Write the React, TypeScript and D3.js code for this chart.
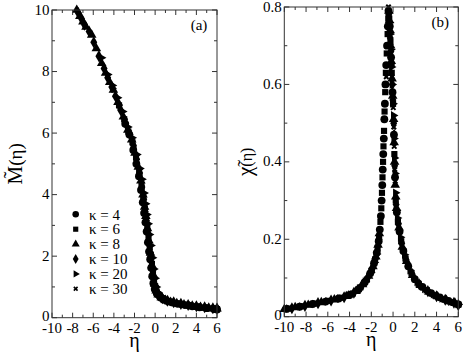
import { useEffect, useRef } from 'react'
import * as d3 from 'd3'

// coupling values and axis ticks
const kappas = [4, 6, 8, 10, 20, 30]
const etaTicks = [-10, -8, -6, -4, -2, 0, 2, 4, 6]
const mTicks = [0, 2, 4, 6, 8, 10]
const chiTicks = [0, 0.2, 0.4, 0.6, 0.8]

// panel (a): scaled magnetisation, [eta, M]
const m4 = [[-2.9, 6.3], [-2.5, 5.95], [-2.12, 5.45], [-1.82, 5.0], [-1.57, 4.6], [-1.37, 4.15], [-1.2, 3.75], [-1.07, 3.4], [-0.94, 3.1], [-0.82, 2.8], [-0.7, 2.45], [-0.59, 2.15], [-0.48, 1.9], [-0.38, 1.62], [-0.28, 1.35], [-0.17, 1.12], [-0.04, 0.93], [0.16, 0.79], [0.45, 0.69], [0.75, 0.61], [1.1, 0.55], [1.6, 0.5], [2.2, 0.45], [2.9, 0.41], [3.6, 0.37], [4.3, 0.34], [5.0, 0.31], [5.7, 0.28], [6.0, 0.27]]
const m6 = [[-3.5, 6.9], [-3.0, 6.45], [-2.6, 6.05], [-2.2, 5.7], [-1.85, 5.2], [-1.55, 4.75], [-1.32, 4.3], [-1.15, 3.9], [-1.0, 3.55], [-0.88, 3.25], [-0.76, 2.95], [-0.64, 2.6], [-0.52, 2.3], [-0.42, 2.05], [-0.31, 1.75], [-0.21, 1.5], [-0.11, 1.25], [0.0, 1.02], [0.14, 0.85], [0.32, 0.74], [0.6, 0.64], [0.95, 0.57], [1.4, 0.51], [1.9, 0.47], [2.6, 0.43], [3.3, 0.39], [4.0, 0.35], [4.7, 0.32], [5.4, 0.3], [6.0, 0.28]]
const m8 = [[-7.6, 10.0], [-7.3, 9.8], [-7.0, 9.62], [-6.7, 9.45], [-6.15, 9.19], [-5.7, 8.75], [-5.18, 8.27], [-4.8, 7.95], [-4.4, 7.65], [-4.05, 7.4], [-3.6, 7.0], [-3.08, 6.53], [-2.65, 6.1], [-2.27, 5.78], [-1.95, 5.35], [-1.63, 4.9], [-1.38, 4.45], [-1.18, 4.0], [-1.02, 3.6], [-0.9, 3.3], [-0.74, 2.9], [-0.6, 2.5], [-0.45, 2.1], [-0.3, 1.7], [-0.18, 1.4], [-0.05, 1.1], [0.1, 0.88], [0.3, 0.75], [0.6, 0.65], [1.0, 0.57], [1.5, 0.51], [2.1, 0.47], [2.8, 0.43], [3.6, 0.39], [4.4, 0.35], [5.2, 0.32], [6.0, 0.29]]
const m10 = [[-7.45, 9.9], [-7.15, 9.72], [-6.85, 9.52], [-6.4, 9.3], [-5.95, 8.95], [-5.45, 8.5], [-4.95, 8.1], [-4.6, 7.8], [-4.2, 7.5], [-3.85, 7.2], [-3.35, 6.75], [-2.85, 6.3], [-2.45, 5.95], [-2.1, 5.6], [-1.8, 5.15], [-1.5, 4.7], [-1.28, 4.25], [-1.1, 3.85], [-0.96, 3.45], [-0.84, 3.15], [-0.7, 2.75], [-0.55, 2.35], [-0.4, 1.98], [-0.27, 1.62], [-0.14, 1.3], [-0.02, 1.05], [0.15, 0.86], [0.38, 0.73], [0.7, 0.63], [1.2, 0.55], [1.8, 0.5], [2.5, 0.45], [3.2, 0.41], [4.0, 0.37], [4.8, 0.34], [5.6, 0.31], [6.0, 0.3]]
const m20 = [[-5.2, 8.45], [-4.6, 7.9], [-4.15, 7.55], [-3.65, 7.15], [-3.15, 6.7], [-2.65, 6.2], [-2.23, 5.85], [-1.78, 5.3], [-1.48, 4.85], [-1.28, 4.5], [-1.08, 4.05], [-0.93, 3.7], [-0.8, 3.35], [-0.68, 3.05], [-0.55, 2.7], [-0.41, 2.35], [-0.26, 1.95], [-0.13, 1.58], [0.0, 1.28], [0.12, 1.0], [0.28, 0.82], [0.5, 0.71], [0.8, 0.61], [1.3, 0.54], [2.0, 0.48], [2.7, 0.44], [3.5, 0.4], [4.2, 0.36], [5.0, 0.33], [5.8, 0.3]]
const m30 = [[-4.0, 7.4], [-3.4, 6.85], [-2.9, 6.38], [-2.5, 6.02], [-2.05, 5.5], [-1.75, 5.1], [-1.5, 4.65], [-1.3, 4.25], [-1.12, 3.85], [-0.97, 3.5], [-0.85, 3.2], [-0.72, 2.85], [-0.58, 2.45], [-0.44, 2.08], [-0.32, 1.75], [-0.2, 1.45], [-0.08, 1.18], [0.05, 0.95], [0.25, 0.8], [0.55, 0.68], [0.9, 0.6], [1.35, 0.54], [1.9, 0.49], [2.6, 0.45], [3.3, 0.41], [4.1, 0.37], [4.9, 0.34], [5.6, 0.31], [6.0, 0.3]]

// panel (b): scaled susceptibility, [eta, chi]
const chi4 = [[-9.8, 0.02], [-8.6, 0.026], [-7.4, 0.033], [-6.2, 0.039], [-5.0, 0.047], [-4.0, 0.056], [-3.2, 0.07], [-2.6, 0.089], [-2.1, 0.112], [-1.75, 0.138], [-1.5, 0.165], [-1.32, 0.195], [-1.22, 0.225], [-1.12, 0.26], [-1.05, 0.3], [-0.99, 0.34], [-0.95, 0.38], [-0.9, 0.42], [-0.85, 0.46], [-0.8, 0.51], [-0.75, 0.55], [-0.7, 0.6], [-0.63, 0.65], [-0.55, 0.7], [-0.48, 0.75], [-0.42, 0.79], [-0.3, 0.75], [-0.18, 0.67], [-0.05, 0.58], [0.08, 0.47], [0.18, 0.36], [0.35, 0.27], [0.6, 0.22], [0.95, 0.17], [1.4, 0.13], [2.0, 0.097], [2.7, 0.077], [3.5, 0.061], [4.3, 0.05], [5.1, 0.041], [6.0, 0.032]]
const chi6 = [[-9.5, 0.021], [-8.3, 0.027], [-7.1, 0.034], [-5.9, 0.041], [-4.7, 0.049], [-3.7, 0.06], [-3.0, 0.076], [-2.4, 0.096], [-1.95, 0.12], [-1.65, 0.148], [-1.42, 0.178], [-1.28, 0.205], [-1.16, 0.245], [-1.08, 0.28], [-1.02, 0.32], [-0.97, 0.36], [-0.92, 0.4], [-0.88, 0.44], [-0.83, 0.48], [-0.78, 0.53], [-0.72, 0.58], [-0.66, 0.63], [-0.58, 0.68], [-0.5, 0.73], [-0.44, 0.77], [-0.35, 0.77], [-0.24, 0.71], [-0.12, 0.63], [0.0, 0.55], [0.12, 0.42], [0.25, 0.3], [0.45, 0.245], [0.75, 0.195], [1.15, 0.15], [1.7, 0.112], [2.35, 0.085], [3.1, 0.068], [3.9, 0.054], [4.7, 0.045], [5.5, 0.037], [6.0, 0.031]]
const chi8 = [[-10, 0.019], [-9.0, 0.024], [-7.8, 0.03], [-6.6, 0.037], [-5.4, 0.044], [-4.3, 0.053], [-3.4, 0.066], [-2.8, 0.083], [-2.25, 0.105], [-1.85, 0.13], [-1.58, 0.155], [-1.38, 0.185], [-1.26, 0.215], [-0.38, 0.79], [-0.33, 0.765], [-0.28, 0.74], [-0.22, 0.7], [-0.16, 0.66], [-0.09, 0.615], [-0.03, 0.57], [0.05, 0.51], [0.1, 0.45], [0.14, 0.4], [0.2, 0.34], [0.25, 0.31], [0.32, 0.28], [0.55, 0.23], [0.85, 0.18], [1.25, 0.143], [1.8, 0.107], [2.5, 0.081], [3.3, 0.064], [4.1, 0.052], [4.9, 0.043], [5.7, 0.035]]
const chi10 = [[-9.3, 0.022], [-8.1, 0.028], [-6.9, 0.035], [-5.7, 0.042], [-4.5, 0.05], [-3.6, 0.062], [-2.9, 0.079], [-2.35, 0.1], [-1.9, 0.125], [-1.62, 0.15], [-1.45, 0.17], [-1.3, 0.2], [-0.4, 0.78], [-0.35, 0.755], [-0.26, 0.72], [-0.2, 0.685], [-0.14, 0.65], [-0.07, 0.6], [-0.02, 0.56], [0.06, 0.5], [0.1, 0.47], [0.15, 0.39], [0.2, 0.36], [0.28, 0.29], [0.5, 0.24], [0.8, 0.19], [1.2, 0.147], [1.75, 0.11], [2.4, 0.084], [3.2, 0.066], [4.0, 0.053], [4.8, 0.044], [5.6, 0.036], [6.0, 0.03]]
const chi20 = [[-9.6, 0.021], [-8.4, 0.026], [-7.2, 0.033], [-6.0, 0.04], [-4.9, 0.047], [-3.9, 0.057], [-3.1, 0.072], [-2.55, 0.091], [-2.05, 0.115], [-1.72, 0.14], [-1.52, 0.162], [-0.4, 0.785], [-0.33, 0.76], [-0.27, 0.73], [-0.2, 0.69], [-0.14, 0.645], [-0.08, 0.6], [0.0, 0.55], [0.04, 0.52], [0.08, 0.46], [0.13, 0.41], [0.18, 0.37], [0.23, 0.32], [0.3, 0.275], [0.4, 0.255], [0.68, 0.205], [1.05, 0.16], [1.55, 0.12], [2.2, 0.09], [2.9, 0.072], [3.7, 0.058], [4.5, 0.047], [5.3, 0.039], [6.0, 0.032]]
const chi30 = [[-9.9, 0.019], [-8.8, 0.025], [-7.6, 0.031], [-6.4, 0.038], [-5.2, 0.045], [-4.2, 0.054], [-3.3, 0.068], [-2.7, 0.085], [-2.2, 0.108], [-1.8, 0.134], [-1.55, 0.158], [-1.36, 0.188], [-0.67, 0.6], [-0.62, 0.62], [-0.42, 0.8], [-0.36, 0.78], [-0.3, 0.74], [-0.22, 0.7], [-0.16, 0.66], [-0.1, 0.62], [-0.04, 0.58], [0.02, 0.54], [0.07, 0.49], [0.11, 0.44], [0.16, 0.38], [0.2, 0.35], [0.25, 0.3], [0.3, 0.285], [0.48, 0.24], [0.78, 0.19], [1.15, 0.15], [1.65, 0.115], [2.3, 0.087], [3.0, 0.07], [3.8, 0.056], [4.6, 0.046], [5.4, 0.038], [6.0, 0.031]]

const mSeries = [m4, m6, m8, m10, m20, m30]
const chiSeries = [chi4, chi6, chi8, chi10, chi20, chi30]

const FONT = "'Liberation Serif', 'Times New Roman', serif"

const crossSymbol = {
  draw(ctx, size) {
    const r = Math.sqrt(size) / 2
    ctx.moveTo(-r, -r); ctx.lineTo(r, r)
    ctx.moveTo(r, -r); ctx.lineTo(-r, r)
  }
}
// one marker style per kappa
const markers = [
  { type: d3.symbolCircle, size: 48, rot: 0 },
  { type: d3.symbolSquare, size: 38, rot: 0 },
  { type: d3.symbolTriangle, size: 40, rot: 0 },
  { type: d3.symbolDiamond, size: 42, rot: 0 },
  { type: d3.symbolTriangle, size: 32, rot: 90 },
  { type: crossSymbol, size: 20, rot: 0, stroke: true },
]

function drawMarks(g, data, i, x, y) {
  const m = markers[i]
  const sym = d3.symbol().type(m.type).size(m.size)
  g.append('g').selectAll('path')
    .data(data)
    .join('path')
    .attr('transform', d => `translate(${x(d[0])},${y(d[1])}) rotate(${m.rot})`)
    .attr('d', sym)
    .attr('fill', m.stroke ? 'none' : 'black')
    .attr('stroke', m.stroke ? 'black' : 'none')
    .attr('stroke-width', 2)
}

function drawPanel(svg, { left, right, top, bottom, yDomain, yTicks, yMinor, yFmt, series, tag, title }) {
  const x = d3.scaleLinear().domain([-10, 6]).range([left, right])
  const y = d3.scaleLinear().domain(yDomain).range([bottom, top])
  const g = svg.append('g')

  series.forEach((s, i) => drawMarks(g, s, i, x, y))

  // frame with inward ticks on all four sides
  const ax = svg.append('g').attr('stroke', '#333').attr('stroke-width', 1)
  ax.append('rect').attr('x', left).attr('y', top).attr('width', right - left).attr('height', bottom - top).attr('fill', 'none')
  x.ticks(16).forEach(t => {
    const len = etaTicks.includes(t) ? 5 : 3
    ax.append('line').attr('x1', x(t)).attr('x2', x(t)).attr('y1', bottom).attr('y2', bottom - len)
    ax.append('line').attr('x1', x(t)).attr('x2', x(t)).attr('y1', top).attr('y2', top + len)
  })
  y.ticks(yMinor).forEach(t => {
    const len = yTicks.some(v => Math.abs(v - t) < 1e-9) ? 5 : 3
    ax.append('line').attr('y1', y(t)).attr('y2', y(t)).attr('x1', left).attr('x2', left + len)
    ax.append('line').attr('y1', y(t)).attr('y2', y(t)).attr('x1', right).attr('x2', right - len)
  })

  const txt = svg.append('g').style('font-family', FONT).attr('fill', 'black')
  txt.selectAll('text.xt').data(etaTicks).join('text')
    .attr('x', d => x(d)).attr('y', bottom + 15)
    .attr('text-anchor', 'middle').attr('font-size', 15)
    .text(d => d)
  txt.selectAll('text.yt').data(yTicks).join('text')
    .attr('x', left - 2.5).attr('y', d => y(d)).attr('dy', d => (d === 0 ? '0.2em' : '0.3em'))
    .attr('text-anchor', 'end').attr('font-size', 15)
    .text(yFmt)
  txt.append('text').attr('x', (left + right) / 2).attr('y', bottom + 29)
    .attr('text-anchor', 'middle').attr('font-size', 20).text('η')
  txt.append('text').attr('x', right - 18).attr('y', top + 20)
    .attr('text-anchor', 'middle').attr('font-size', 15).text(tag)

  const ty = txt.append('text')
    .attr('transform', `translate(${title.x},${(top + bottom) / 2}) rotate(-90)`)
    .attr('text-anchor', 'middle').attr('font-size', 21)
  ty.append('tspan').text(title.main)
  ty.append('tspan').attr('font-size', title.sub).text('(η)')
  return { x, y }
}

export default function App() {
  const ref = useRef(null)
  useEffect(() => {
    const svg = d3.select(ref.current)
    svg.selectAll('*').remove()

    drawPanel(svg, {
      left: 52, right: 217, top: 10, bottom: 317.7,
      yDomain: [0, 10], yTicks: mTicks, yMinor: 10, yFmt: d => d,
      series: mSeries, tag: '(a)', title: { x: 22, main: 'M\u0303', sub: 19 }
    })
    drawPanel(svg, {
      left: 284.3, right: 458.3, top: 7, bottom: 316.7,
      yDomain: [0, 0.8], yTicks: chiTicks, yMinor: 8, yFmt: d => (d === 0 ? '0' : d3.format('.1f')(d)),
      series: chiSeries, tag: '(b)', title: { x: 252, main: 'χ\u0303', sub: 16 }
    })

    // legend for panel (a)
    const lg = svg.append('g')
    const rowY = d3.scaleLinear().domain([0, 1]).range([214.3, 229.2])
    kappas.forEach((k, i) => {
      const m = markers[i]
      lg.append('path')
        .attr('transform', `translate(75.7,${rowY(i)}) rotate(${m.rot})`)
        .attr('d', d3.symbol().type(m.type).size(m.size * 0.7)())
        .attr('fill', m.stroke ? 'none' : 'black')
        .attr('stroke', m.stroke ? 'black' : 'none')
        .attr('stroke-width', 1.6)
      lg.append('text')
        .attr('x', 89).attr('y', rowY(i)).attr('dy', '0.35em')
        .style('font-family', FONT).attr('font-size', 15)
        .text(`κ = ${k}`)
    })
  }, [])

  return (
    <svg ref={ref} width={463} height={354} style={{ position: 'absolute', left: 0, top: 0, background: 'white' }} />
  )
}
